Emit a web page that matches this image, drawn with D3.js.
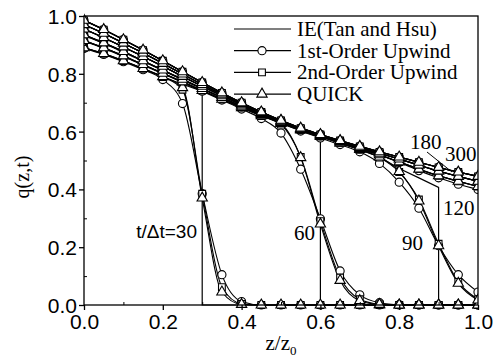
<!DOCTYPE html>
<html>
<head>
<meta charset="utf-8">
<script src="https://cdn.jsdelivr.net/npm/d3@7"></script>
<style>
  body { margin: 0; background: #fff; }
  svg { display: block; }
</style>
</head>
<body>
<div id="chart"></div>
<script>
// z grid shared by all series
const zGrid = [0.00, 0.05, 0.10, 0.15, 0.20, 0.25, 0.30, 0.35, 0.40, 0.45, 0.50,
               0.55, 0.60, 0.65, 0.70, 0.75, 0.80, 0.85, 0.90, 0.95, 1.00];
const times = [30, 60, 90, 120, 180, 300];
const frontZ = [0.3, 0.6, 0.9, null, null, null];

// IE (Tan and Hsu), values up to the front
const ie30  = [0.890, 0.870, 0.845, 0.818, 0.790, 0.764, 0.740];
const ie60  = [0.915, 0.890, 0.862, 0.832, 0.802, 0.772, 0.742, 0.712, 0.683, 0.655, 0.628, 0.604, 0.580];
const ie90  = [0.935, 0.907, 0.877, 0.845, 0.813, 0.781, 0.749, 0.718, 0.688, 0.659, 0.631, 0.606, 0.583,
               0.560, 0.538, 0.512, 0.472, 0.440, 0.407];
const ie120 = [0.955, 0.925, 0.893, 0.860, 0.826, 0.791, 0.757, 0.724, 0.693, 0.663, 0.634, 0.607, 0.586,
               0.563, 0.541, 0.520, 0.495, 0.470, 0.447, 0.428, 0.410];
const ie180 = [0.970, 0.940, 0.906, 0.872, 0.836, 0.799, 0.763, 0.729, 0.697, 0.666, 0.637, 0.610, 0.588,
               0.566, 0.545, 0.525, 0.505, 0.484, 0.463, 0.445, 0.428];
const ie300 = [0.985, 0.953, 0.918, 0.882, 0.845, 0.807, 0.770, 0.734, 0.700, 0.668, 0.639, 0.612, 0.590,
               0.569, 0.549, 0.530, 0.512, 0.494, 0.476, 0.460, 0.445];

// 1st-order upwind
const up1_30  = [0.888, 0.867, 0.842, 0.814, 0.780, 0.697, 0.385, 0.105, 0.012, 0.000, 0.000, 0.000, 0.000,
                 0.000, 0.000, 0.000, 0.000, 0.000, 0.000, 0.000, 0.000];
const up1_60  = [0.913, 0.888, 0.860, 0.830, 0.800, 0.770, 0.740, 0.709, 0.678, 0.645, 0.595, 0.470, 0.298,
                 0.118, 0.035, 0.008, 0.001, 0.000, 0.000, 0.000, 0.000];
const up1_90  = [0.933, 0.905, 0.875, 0.843, 0.811, 0.779, 0.747, 0.716, 0.686, 0.657, 0.629, 0.602, 0.578,
                 0.555, 0.530, 0.490, 0.425, 0.335, 0.205, 0.105, 0.045];
const up1_120 = [0.955, 0.925, 0.893, 0.860, 0.826, 0.791, 0.757, 0.724, 0.693, 0.663, 0.634, 0.607, 0.586,
                 0.563, 0.541, 0.519, 0.493, 0.465, 0.440, 0.418, 0.400];

// 2nd-order upwind
const up2_30  = [0.890, 0.869, 0.844, 0.817, 0.789, 0.745, 0.385, 0.062, 0.004, 0.000, 0.000, 0.000, 0.000,
                 0.000, 0.000, 0.000, 0.000, 0.000, 0.000, 0.000, 0.000];
const up2_60  = [0.915, 0.890, 0.862, 0.832, 0.802, 0.772, 0.742, 0.712, 0.683, 0.654, 0.624, 0.512, 0.290,
                 0.095, 0.020, 0.003, 0.000, 0.000, 0.000, 0.000, 0.000];
const up2_90  = [0.935, 0.907, 0.877, 0.845, 0.813, 0.781, 0.749, 0.718, 0.688, 0.659, 0.631, 0.606, 0.583,
                 0.560, 0.537, 0.510, 0.460, 0.365, 0.212, 0.080, 0.020];

// QUICK
const quick30 = [0.890, 0.870, 0.845, 0.818, 0.790, 0.752, 0.370, 0.045, 0.002, 0.000, 0.000, 0.000, 0.000,
                 0.000, 0.000, 0.000, 0.000, 0.000, 0.000, 0.000, 0.000];
const quick60 = [0.915, 0.890, 0.862, 0.832, 0.802, 0.772, 0.742, 0.712, 0.683, 0.655, 0.628, 0.510, 0.280,
                 0.085, 0.015, 0.002, 0.000, 0.000, 0.000, 0.000, 0.000];
const quick90 = [0.935, 0.907, 0.877, 0.845, 0.813, 0.781, 0.749, 0.718, 0.688, 0.659, 0.631, 0.606, 0.583,
                 0.560, 0.538, 0.512, 0.462, 0.360, 0.205, 0.075, 0.017];

const xTicks = [0.0, 0.2, 0.4, 0.6, 0.8, 1.0];
const yTicks = [0.0, 0.2, 0.4, 0.6, 0.8, 1.0];
const minorTicks = [0.1, 0.3, 0.5, 0.7, 0.9];

const legendItems = [
  { label: "IE(Tan and Hsu)", symbol: null },
  { label: "1st-Order Upwind", symbol: "circle" },
  { label: "2nd-Order Upwind", symbol: "square" },
  { label: "QUICK", symbol: "triangle" }
];

// numerical series: symbol + values per time
const numSeries = [
  { symbol: "circle",   data: [up1_30, up1_60, up1_90, up1_120, ie180, ie300] },
  { symbol: "square",   data: [up2_30, up2_60, up2_90, ie120, ie180, ie300] },
  { symbol: "triangle", data: [quick30, quick60, quick90, ie120, ie180, ie300] }
];
const ieSeries = [ie30, ie60, ie90, ie120, ie180, ie300];

const SERIF = '"Liberation Serif", serif';
const SANS = '"Liberation Sans", sans-serif';

const W = 501, H = 361;
const margin = { top: 16, right: 23, bottom: 56, left: 84 };
const width = W - margin.left - margin.right;
const height = H - margin.top - margin.bottom;

const svg = d3.select("#chart").append("svg")
  .attr("width", W).attr("height", H);

const xScale = d3.scaleLinear().domain([0, 1]).range([0, width]);
const yScale = d3.scaleLinear().domain([0, 1]).range([height, 0]);

const chart = svg.append("g")
  .attr("transform", `translate(${margin.left},${margin.top})`);

chart.append("defs").append("clipPath").attr("id", "plot-clip")
  .append("rect")
  .attr("x", 0).attr("y", -6)
  .attr("width", width).attr("height", height + 12);

const symbolPath = {
  circle: d3.symbol().type(d3.symbolCircle).size(52),
  square: d3.symbol().type(d3.symbolSquare).size(46),
  triangle: d3.symbol().type(d3.symbolTriangle).size(46)
};

const plot = chart.append("g").attr("clip-path", "url(#plot-clip)");

// IE lines with vertical shock front
const ieLine = d3.line().x(d => xScale(d[0])).y(d => yScale(d[1]));
ieSeries.forEach((vals, i) => {
  const pts = vals.map((v, j) => [zGrid[j], v]);
  if (frontZ[i] !== null) {
    pts.push([frontZ[i], 0], [1.0, 0]);
  }
  plot.append("path")
    .attr("d", ieLine(pts))
    .attr("fill", "none").attr("stroke", "#000").attr("stroke-width", 1.2);
});

// numerical lines
const numLine = d3.line().x(d => xScale(d[0])).y(d => yScale(d[1])).curve(d3.curveMonotoneX);
numSeries.forEach(s => {
  s.data.forEach(vals => {
    const pts = vals.map((v, j) => [zGrid[j], v]);
    plot.append("path")
      .attr("d", numLine(pts))
      .attr("fill", "none").attr("stroke", "#000").attr("stroke-width", 1.1);
  });
});

// markers
numSeries.forEach(s => {
  s.data.forEach(vals => {
    plot.selectAll(null)
      .data(vals.map((v, j) => [zGrid[j], v]))
      .enter().append("path")
      .attr("d", symbolPath[s.symbol])
      .attr("transform", d => `translate(${xScale(d[0])},${yScale(d[1])})`)
      .attr("fill", "#fff").attr("stroke", "#000").attr("stroke-width", 1.1);
  });
});

// frame
chart.append("rect")
  .attr("width", width).attr("height", height)
  .attr("fill", "none").attr("stroke", "#000").attr("stroke-width", 1.3);

// axes
const xAxis = chart.append("g").attr("transform", `translate(0,${height})`)
  .call(d3.axisBottom(xScale).tickValues(xTicks).tickFormat(d3.format(".1f"))
    .tickSize(5).tickSizeOuter(0).tickPadding(4));
const yAxis = chart.append("g")
  .call(d3.axisLeft(yScale).tickValues(yTicks).tickFormat(d3.format(".1f"))
    .tickSize(5).tickSizeOuter(0).tickPadding(2));
[xAxis, yAxis].forEach(a => {
  a.select(".domain").remove();
  a.selectAll(".tick line").attr("stroke", "#000").attr("stroke-width", 1.3);
  a.selectAll(".tick text")
    .style("font-family", SANS).style("font-size", "21px").attr("fill", "#000");
});
yAxis.selectAll(".tick text").attr("dy", "0.36em");

// minor ticks, inward
chart.append("g").attr("transform", `translate(0,${height})`)
  .call(d3.axisTop(xScale).tickValues(minorTicks).tickSize(3).tickFormat(""))
  .call(g => g.select(".domain").remove());
chart.append("g")
  .call(d3.axisRight(yScale).tickValues(minorTicks).tickSize(3).tickFormat(""))
  .call(g => g.select(".domain").remove());

// axis titles
chart.append("text")
  .attr("transform", `translate(${29 - margin.left},${177 - margin.top}) rotate(-90)`)
  .attr("text-anchor", "middle")
  .style("font-family", SERIF).style("font-size", "20px")
  .text("q(z,t)");

const xt = chart.append("text")
  .attr("x", 281 - margin.left).attr("y", 350 - margin.top)
  .attr("text-anchor", "middle")
  .style("font-family", SERIF).style("font-size", "21px");
xt.append("tspan").text("z/z");
xt.append("tspan").style("font-size", "13px").attr("dy", 5).text("0");

// time annotations
const annotations = [
  { text: "t/\u0394t=30", x: 197, y: 238, anchor: "end", sans: true },
  { text: "60", x: 315, y: 240, anchor: "end" },
  { text: "90", x: 402, y: 250, anchor: "start" },
  { text: "120", x: 443, y: 215, anchor: "start" },
  { text: "180", x: 410, y: 149, anchor: "start" },
  { text: "300", x: 445, y: 161, anchor: "start" }
];
svg.selectAll(".ann").data(annotations).enter().append("text")
  .attr("class", "ann")
  .attr("x", d => d.x).attr("y", d => d.y)
  .attr("text-anchor", d => d.anchor)
  .style("font-family", d => d.sans ? SANS : SERIF)
  .style("font-size", d => d.sans ? "19px" : "21px")
  .text(d => d.text);

svg.append("line")
  .attr("x1", 427).attr("y1", 152).attr("x2", 452).attr("y2", 172)
  .attr("stroke", "#000").attr("stroke-width", 1);

// legend
const legend = svg.append("g").attr("transform", "translate(234,29)");
const rows = legend.selectAll("g").data(legendItems).enter().append("g")
  .attr("transform", (d, i) => `translate(0,${i * 21.7})`);
rows.append("line")
  .attr("x1", 0).attr("x2", 57).attr("y1", 0).attr("y2", 0)
  .attr("stroke", "#000").attr("stroke-width", 1.2);
rows.filter(d => d.symbol)
  .append("path")
  .attr("d", d => symbolPath[d.symbol]())
  .attr("transform", "translate(28,0)")
  .attr("fill", "#fff").attr("stroke", "#000").attr("stroke-width", 1.1);
rows.append("text")
  .attr("x", 63).attr("dy", "0.33em")
  .style("font-family", SERIF).style("font-size", "21px")
  .text(d => d.label);
</script>
</body>
</html>
